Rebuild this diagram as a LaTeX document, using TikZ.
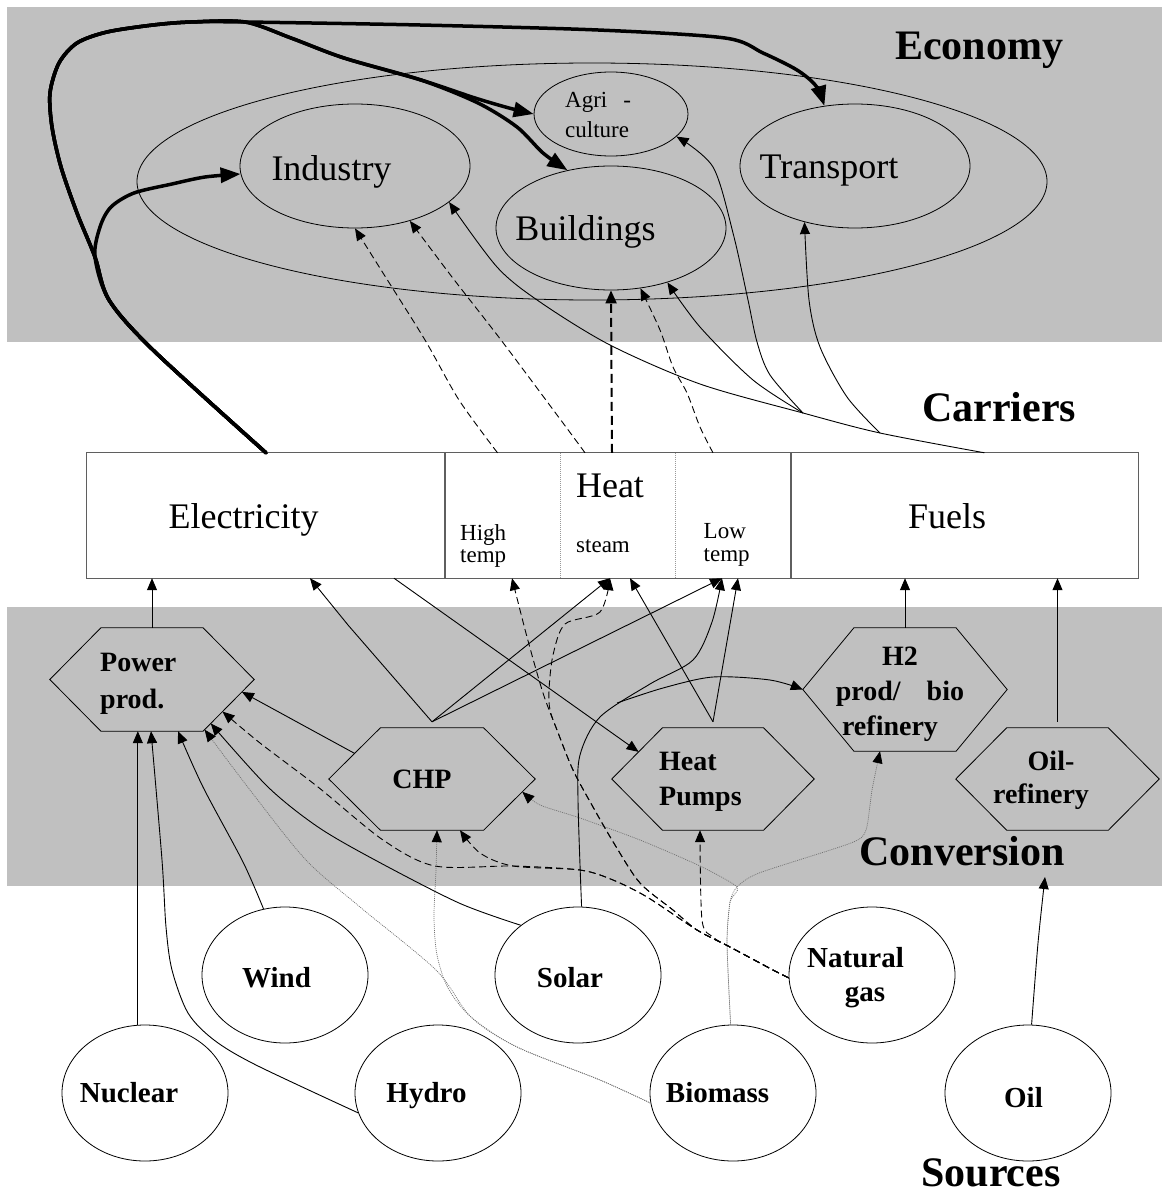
\documentclass[tikz,border=0pt]{standalone}
\usepackage{fontspec}
\setmainfont{Liberation Serif}
\usetikzlibrary{arrows.meta,calc,shapes.geometric}

\definecolor{bandgray}{RGB}{192,192,192}
\definecolor{rimgray}{RGB}{95,95,95}
\newcommand\setfs[1]{\fontsize{#1}{#1}\selectfont}
% hexagon drawn on the bounding box of a named node
\newcommand\hexframe[1]{%
  \coordinate (#1-tl) at ($(#1.north west)!0.25!(#1.north east)$);
  \coordinate (#1-tr) at ($(#1.north west)!0.75!(#1.north east)$);
  \coordinate (#1-br) at ($(#1.south west)!0.75!(#1.south east)$);
  \coordinate (#1-bl) at ($(#1.south west)!0.25!(#1.south east)$);
  \draw[hexline] (#1.west) -- (#1-tl) -- (#1-tr) -- (#1.east) -- (#1-br) -- (#1-bl) -- cycle;}

\begin{document}
\begin{tikzpicture}[x=1pt,y=-1pt,
  >={Triangle[length=12pt,width=10pt]},
  ell/.style={ellipse, draw, line width=0.8pt, inner sep=0pt},
  srcnode/.style={ellipse, draw, fill=white, line width=0.8pt, inner sep=0pt,
                  minimum width=166pt, minimum height=136pt},
  hexbox/.style={rectangle, draw=none, inner sep=0pt},
  hexline/.style={draw=black, line width=0.8pt},
  cell/.style={rectangle, draw=none, inner sep=0pt, minimum height=125pt},
  lbl/.style={inner sep=0pt, anchor=base},
  lblw/.style={inner sep=0pt, anchor=base west},
  ttl/.style={lbl, font=\setfs{42}\bfseries},
  sector/.style={lbl, font=\setfs{36}},
  sublbl/.style={lblw, font=\setfs{23}},
  hexlbl/.style={font=\setfs{28}\bfseries},
  srclbl/.style={lbl, font=\setfs{29}\bfseries},
  flow/.style={line width=0.9pt, ->},
  gasflow/.style={flow, dash pattern=on 7pt off 4pt},
  heatflow/.style={flow, dash pattern=on 7pt off 4pt},
  bioflow/.style={line width=0.7pt, draw=black!55, dash pattern=on 1pt off 1pt,
                  -{Triangle[length=12pt,width=10pt,color=black]}},
  elecflow/.style={line width=3.5pt, line join=round, line cap=round,
                   -{Triangle[length=20pt,width=15pt]}},
  steamflow/.style={line width=2pt, dash pattern=on 9pt off 5pt,
                    -{Triangle[length=13pt,width=11pt]}},
]
\useasboundingbox (0,0) rectangle (1162,1196);

% ---------- bands ----------
\fill[bandgray] (7,7) rectangle (1162,342);
\fill[bandgray] (7,607) rectangle (1162,886);

% ---------- economy ----------
\node[ell, minimum width=910pt, minimum height=237pt] (eco) at (592,181.5) {};
\node[ell, minimum width=230pt, minimum height=124pt] (ind) at (355,166) {};
\node[ell, minimum width=154pt, minimum height=84pt] (agri) at (611,114) {};
\node[ell, minimum width=230pt, minimum height=124pt] (bld) at (611,228) {};
\node[ell, minimum width=230pt, minimum height=124pt] (trn) at (855,166) {};

% ---------- carriers ----------
\node[cell, minimum width=358pt] (elec) at (266,515.5) {};
\node[cell, minimum width=115pt] (ht) at (502.5,515.5) {};
\node[cell, minimum width=115pt] (st) at (617.5,515.5) {};
\node[cell, minimum width=116pt] (lt) at (733,515.5) {};
\node[cell, minimum width=347pt] (fuel) at (964.5,515.5) {};
\fill[white] (elec.north west) rectangle (fuel.south east);
\draw[rimgray, line width=1pt] (elec.north west) rectangle (fuel.south east);
\draw[rimgray, line width=2pt] (elec.north east) -- (elec.south east);
\draw[rimgray, line width=2pt] (fuel.north west) -- (fuel.south west);
\draw[black!40, line width=0.8pt, dash pattern=on 1pt off 1pt] (ht.north east) -- (ht.south east);
\draw[black!40, line width=0.8pt, dash pattern=on 1pt off 1pt] (st.north east) -- (st.south east);

% ---------- conversion ----------
\node[hexbox, minimum width=204pt, minimum height=103pt] (pp) at (152,679.5) {};
\node[hexbox, minimum width=206pt, minimum height=102pt] (chp) at (432,779) {};
\node[hexbox, minimum width=202pt, minimum height=102pt] (hp) at (713,779) {};
\node[hexbox, minimum width=204pt, minimum height=123pt] (h2) at (905,689.5) {};
\node[hexbox, minimum width=203pt, minimum height=102pt] (oref) at (1057.5,779) {};
\hexframe{pp}
\hexframe{chp}
\hexframe{hp}
\hexframe{h2}
\hexframe{oref}

% ---------- sources ----------
\node[srcnode] (nuc) at (145,1093) {};
\node[srcnode] (wnd) at (285,975) {};
\node[srcnode] (hyd) at (438,1093) {};
\node[srcnode] (sol) at (578,975) {};
\node[srcnode] (ng) at (872,975) {};
\node[srcnode] (bio) at (733,1093) {};
\node[srcnode] (oil) at (1028,1093) {};

% ---------- connector end points ----------
\coordinate (chp-up) at ($(chp.north)+(0,-6)$);
\coordinate (hp-up) at ($(hp.north)+(0,-6)$);
\coordinate (oref-up) at ($(oref.north)+(0,-6)$);
\coordinate (ht-top) at ($(ht.north)+(-5,0)$);
\coordinate (st-top1) at ($(st.north)+(-32.5,0)$);
\coordinate (st-top2) at ($(st.north)+(-5.5,0)$);
\coordinate (lt-top) at ($(lt.north)+(-20,0)$);
\coordinate (fuel-top) at ($(fuel.north)+(20,0)$);
\coordinate (el-chp) at ($(elec.south)+(44,0)$);
\coordinate (el-hp) at ($(elec.south)+(128,0)$);
\coordinate (ht-bot) at ($(ht.south)+(9.5,0)$);
\coordinate (st-bot1) at ($(st.south)+(-7.5,0)$);
\coordinate (st-bot2) at ($(st.south)+(12.5,0)$);
\coordinate (lt-bot1) at ($(lt.south)+(-11,0)$);
\coordinate (lt-bot2) at ($(lt.south)+(5,0)$);
\coordinate (pp-nuc) at ($(pp.south)+(-14,0)$);
\coordinate (pp-hyd) at ($(pp.south)+(-1,0)$);
\coordinate (pp-wnd) at ($(pp.south)+(26,0)$);
\coordinate (pp-bio) at ($(pp-br)!0.03!(pp.east)$);
\coordinate (pp-sol) at ($(pp-br)!0.15!(pp.east)$);
\coordinate (pp-ng) at ($(pp-br)!0.38!(pp.east)$);
\coordinate (pp-chp) at ($(pp-br)!0.76!(pp.east)$);
\coordinate (chp-pp) at ($(chp.west)!0.5!(chp-tl)$);
\coordinate (chp-bio1) at ($(chp.south)+(5,0)$);
\coordinate (chp-ng) at ($(chp.south)+(28,0)$);
\coordinate (chp-bio2) at ($(chp-br)!0.75!(chp.east)$);
\coordinate (hp-el) at ($(hp.west)!0.53!(hp-tl)$);
\coordinate (hp-ng) at ($(hp.south)+(-13,0)$);
\coordinate (h2-bio) at ($(h2.south)+(-25,0)$);
\coordinate (sol-h2) at (617,703);
\coordinate (oil-in) at (1045,877);
\coordinate (fj1) at (880,433);
\coordinate (fj2) at (803,413);
\coordinate (bj) at (737,887);

% ---------- electricity to the economy ----------
\draw[elecflow] plot[smooth, tension=0.5] coordinates {(elec.north) (153,350) (109,300) (95,257)
  (100,227) (111,207) (134,193) (172,184) (205,177) (ind.184)};
\draw[elecflow] plot[smooth, tension=0.5] coordinates {(elec.north) (153,350) (109,300) (95,257)
  (77,213) (61,167) (52,127) (50,93) (59,63) (77,43) (107,32) (153,25) (191,22) (245,22)
  (420,25) (598,30) (725,38) (763,53) (797,70) (816,86) (trn.117)};
\draw[elecflow] plot[smooth, tension=0.5] coordinates {(elec.north) (153,350) (109,300) (95,257)
  (77,213) (61,167) (52,127) (50,93) (59,63) (77,43) (107,32) (153,25) (191,22) (245,22)
  (291,38) (344,58) (421,80) (475,98) (509,108) (agri.west)};
\draw[elecflow] plot[smooth, tension=0.5] coordinates {(elec.north) (153,350) (109,300) (95,257)
  (77,213) (61,167) (52,127) (50,93) (59,63) (77,43) (107,32) (153,25) (191,22) (245,22)
  (291,38) (344,58) (421,80) (478,103) (517,127) (543,153) (bld.127)};

% ---------- heat to the economy ----------
\draw[heatflow] plot[smooth, tension=0.5] coordinates {(ht-top) (459,400) (425,340) (383,273) (ind.270)};
\draw[heatflow] plot[smooth, tension=0.5] coordinates {(st-top1) (563,423) (501,340) (452,277) (ind.-45)};
\draw[steamflow] (st-top2) -- (bld.south);
\draw[heatflow] plot[smooth, tension=0.5] coordinates {(lt-top) (700,427) (687,393) (673,367) (660,330) (bld.-64)};

% ---------- fuels to the economy ----------
\draw[flow] plot[smooth, tension=0.5] coordinates {(fuel-top) (fj1) (fj2) (700,384) (610,345)
  (540,302) (497,267) (ind.-21)};
\draw[flow] plot[smooth, tension=0.5] coordinates {(fj2) (753,380) (700,327) (bld.-44)};
\draw[flow] plot[smooth, tension=0.5] coordinates {(fj2) (770,375) (757,342) (748,300) (733,233)
  (713,167) (agri.-19)};
\draw[flow] plot[smooth, tension=0.5] coordinates {(fj1) (847,397) (820,347) (809,300) (trn.228)};

% ---------- conversion to carriers ----------
\draw[flow] (pp.north) -- (pp.north |- elec.south);
\draw[flow] (chp-up) -- (348,625) -- (el-chp);
\draw[flow] (chp-up) -- (st-bot1);
\draw[flow] (chp-up) -- (lt-bot1);
\draw[flow] (chp-pp) -- (pp-chp);
\draw[flow] (el-hp) -- (hp-el);
\draw[flow] (hp-up) -- (st-bot2);
\draw[flow] (hp-up) -- (lt-bot2);
\draw[flow] (h2.north) -- (h2.north |- fuel.south);
\draw[flow] (oref-up) -- (oref-up |- fuel.south);

% ---------- sources to conversion ----------
\draw[flow] (nuc.96) -- (nuc.96 |- pp.south);
\draw[flow] plot[smooth, tension=0.5] coordinates {(hyd.194) (256,1065) (214,1040) (188,1013)
  (172,970) (166,927) (162,860) (pp-hyd)};
\draw[flow] plot[smooth, tension=0.5] coordinates {(wnd.108) (243,862) (203,787) (pp-wnd)};
\draw[flow] plot[smooth, tension=0.5] coordinates {(sol.139) (459,903) (375,860) (318,827)
  (268,787) (pp-sol)};
\draw[flow] plot[smooth, tension=0.5] coordinates {(sol.87) (578,800) (580,755) (600,717)
  (650,684) (693,660) (712,622) (lt-bot1)};
\draw[flow] plot[smooth, tension=0.5] coordinates {(sol-h2) (663,688) (713,677) (770,680) (h2.west)};

\draw[bioflow] plot[smooth, tension=0.5] coordinates {(bio.187) (600,1080) (517,1047) (471,1017)
  (436,970) (360,907) (306,860) (250,790) (pp-bio)};
\draw[bioflow] plot[smooth, tension=0.5] coordinates {(bio.187) (600,1080) (517,1047) (471,1017)
  (448,988) (437,955) (434,917) (436,870) (chp-bio1)};
\draw[bioflow] plot[smooth, tension=0.4] coordinates {(bio.92) (727,943) (730,902) (bj)
  (759,873) (851,843) (866,830) (872,790) (h2-bio)};
\draw[bioflow] plot[smooth, tension=0.4] coordinates {(bio.92) (727,943) (730,902) (bj)
  (700,866) (640,840) (580,818) (540,805) (chp-bio2)};

\draw[gasflow] plot[smooth, tension=0.5] coordinates {(ng.182) (773,970) (730,947) (697,930)
  (647,897) (613,880) (580,870) (513,866) (435,866) (383,840) (318,787) (260,743) (pp-ng)};
\draw[gasflow] plot[smooth, tension=0.5] coordinates {(ng.182) (773,970) (730,947) (697,930)
  (647,897) (613,880) (580,870) (513,866) (480,853) (chp-ng)};
\draw[gasflow] plot[smooth, tension=0.5] coordinates {(ng.182) (773,970) (730,947) (713,937)
  (702,920) (hp-ng)};
\draw[gasflow] plot[smooth, tension=0.5] coordinates {(ng.182) (773,970) (730,947) (697,930)
  (673,910) (640,883) (615,845) (593,807) (573,770) (557,730) (543,693) (527,637) (ht-bot)};
\draw[gasflow] plot[smooth, tension=0.5] coordinates {(ng.182) (773,970) (730,947) (697,930)
  (673,910) (640,883) (615,845) (593,807) (573,770) (557,730) (550,710) (549,690) (553,655)
  (565,624) (600,612) (st-bot1)};

\draw[flow] plot[smooth, tension=0.5] coordinates {(oil.87) (1038,943) (oil-in)};

% ---------- texts ----------
\node[ttl] (t-eco) at (979,60) {Economy};
\node[ttl] (t-car) at (999,421) {Carriers};
\node[ttl] (t-conv) at (962,865) {Conversion};
\node[ttl] (t-src) at (991,1186) {Sources};

\node[sector] (ind-t) at (331.5,180) {Industry};
\node[sector] (bld-t) at (585.5,240) {Buildings};
\node[sector] (trn-t) at (829,178) {Transport};
\node[sublbl] (agri-t1) at (565,108) {Agri\hspace{16pt}-};
\node[sublbl] (agri-t2) at (565,138) {culture};

\node[sector] (elec-t) at (243.5,528) {Electricity};
\node[sector] (heat-t) at (610,497) {Heat};
\node[sector] (fuel-t) at (947,528) {Fuels};
\node[sublbl] (ht-t1) at (460,540) {High};
\node[sublbl] (ht-t2) at (460,562) {temp};
\node[sublbl] (st-t) at (576,552) {steam};
\node[sublbl] (lt-t1) at (703.5,538) {Low};
\node[sublbl] (lt-t2) at (703.5,561) {temp};

\node[hexlbl, lblw] (pp-t1) at (100,671) {Power};
\node[hexlbl, lblw] (pp-t2) at (100,708) {prod.};
\node[hexlbl, lbl] (chp-t) at (422,788) {CHP};
\node[hexlbl, lblw] (hp-t1) at (659,770) {Heat};
\node[hexlbl, lblw] (hp-t2) at (659,805) {Pumps};
\node[hexlbl, lbl] (h2-t1) at (900,665) {H2};
\node[hexlbl, lbl] (h2-t2) at (900,700) {prod/\hspace{26pt}bio};
\node[hexlbl, lbl] (h2-t3) at (890,735) {refinery};
\node[hexlbl, lbl] (oref-t1) at (1051,770) {Oil-};
\node[hexlbl, lbl] (oref-t2) at (1041,803) {refinery};

\node[srclbl] (nuc-t) at (129,1102) {Nuclear};
\node[srclbl] (wnd-t) at (276.5,987) {Wind};
\node[srclbl] (hyd-t) at (426.5,1102) {Hydro};
\node[srclbl] (sol-t) at (570,987) {Solar};
\node[srclbl] (ng-t1) at (855.5,967) {Natural};
\node[srclbl] (ng-t2) at (865,1001) {gas};
\node[srclbl] (bio-t) at (717.5,1102) {Biomass};
\node[srclbl] (oil-t) at (1023.5,1107) {Oil};
\end{tikzpicture}
\end{document}
